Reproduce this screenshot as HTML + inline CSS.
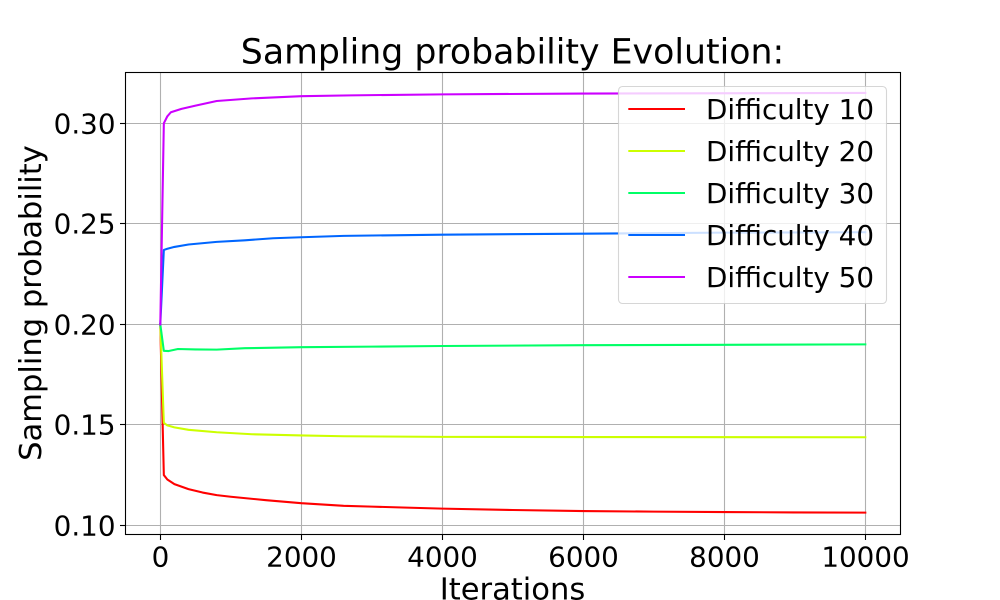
<!DOCTYPE html>
<html>
<head>
<meta charset="utf-8">
<style>
html,body{margin:0;padding:0;background:#fff;}
svg{display:block;}
text{font-family:"DejaVu Sans","Liberation Sans",sans-serif;fill:#000;}
</style>
</head>
<body>
<svg id="chart" xmlns="http://www.w3.org/2000/svg" width="1000" height="600" viewBox="0 0 1000 600">
  <rect x="125" y="72" width="775" height="462" fill="#fff"/>
  <g id="grid"></g>
  <g id="series"></g>
  <rect x="125.5" y="72.5" width="775" height="462" fill="none" stroke="#000" stroke-width="1.1"/>
  <g id="ticks"></g>
  <text x="512.5" y="63.5" font-size="34.72" text-anchor="middle">Sampling probability Evolution:</text>
  <text x="512.5" y="599.5" font-size="30.56" text-anchor="middle">Iterations</text>
  <text transform="translate(41,303) rotate(-90)" font-size="30.56" text-anchor="middle">Sampling probability</text>
  <g id="legend">
    <rect x="618.5" y="86.5" width="268" height="217" rx="4" ry="4" fill="#fff" fill-opacity="0.8" stroke="#ccc" stroke-opacity="0.8" stroke-width="1.1"/>
  </g>
</svg>
<script>
var seriesNames = ["Difficulty 10", "Difficulty 20", "Difficulty 30", "Difficulty 40", "Difficulty 50"];
var seriesColors = ["#ff0000", "#ccff00", "#00ff66", "#0066ff", "#cc00ff"];
var xTickValues = [0, 2000, 4000, 6000, 8000, 10000];
var yTickLabels = ["0.10", "0.15", "0.20", "0.25", "0.30"];
var iterations10 = [0, 50, 100, 200, 400, 600, 800, 1000, 1500, 2000, 2600, 3000, 4000, 5000, 6000, 7000, 8000, 9000, 10000];
var values10 = [0.2, 0.125, 0.1228, 0.1205, 0.118, 0.1163, 0.115, 0.1142, 0.1125, 0.111, 0.1097, 0.1093, 0.1083, 0.1076, 0.1071, 0.1068, 0.1066, 0.1064, 0.1063];
var iterations20 = [0, 50, 100, 200, 400, 800, 1300, 2000, 2600, 4000, 6000, 10000];
var values20 = [0.2, 0.151, 0.1497, 0.1487, 0.1475, 0.1463, 0.1453, 0.1447, 0.1443, 0.144, 0.1439, 0.1438];
var iterations30 = [0, 50, 120, 250, 500, 800, 1200, 2000, 3000, 4000, 6000, 8000, 10000];
var values30 = [0.2, 0.1868, 0.1867, 0.1877, 0.1875, 0.1874, 0.1881, 0.1886, 0.1889, 0.1892, 0.1896, 0.1898, 0.19];
var iterations40 = [0, 50, 100, 200, 400, 800, 1200, 1600, 2000, 2600, 4000, 6000, 8000, 10000];
var values40 = [0.2, 0.237, 0.2376, 0.2385, 0.2397, 0.241, 0.2418, 0.2428, 0.2433, 0.244, 0.2446, 0.2451, 0.2456, 0.2458];
var iterations50 = [0, 50, 100, 150, 300, 500, 800, 1300, 2000, 2700, 4000, 6000, 10000];
var values50 = [0.2, 0.3, 0.3035, 0.3055, 0.3072, 0.3088, 0.3111, 0.3124, 0.3135, 0.3139, 0.3144, 0.3148, 0.3151];

var NS = "http://www.w3.org/2000/svg";
function xScale(v) { return 160.3 + v * 705 / 10000; }
function yScale(v) { return 324.3 - (v - 0.2) * 2010; }
function snap(p) { return Math.floor(p) + 0.5; }
function make(tag, attrs, parent) {
  var el = document.createElementNS(NS, tag);
  for (var k in attrs) el.setAttribute(k, attrs[k]);
  parent.appendChild(el);
  return el;
}
var grid = document.getElementById("grid");
var ticks = document.getElementById("ticks");
var seriesGroup = document.getElementById("series");
var legend = document.getElementById("legend");

xTickValues.forEach(function (v) {
  var x = snap(xScale(v));
  var g = make("line", {x1: x, x2: x, y1: 72, y2: 534, stroke: "#b0b0b0", "stroke-width": 1.1}, grid);
  
  
  var t = make("line", {x1: x, x2: x, y1: 534, y2: 540, stroke: "#000", "stroke-width": 1.1}, ticks);
  
  
  var l = make("text", {x: x, y: 566.5, "font-size": 27.78, "text-anchor": "middle"}, ticks);
  l.textContent = String(v);
  
  
});
yTickLabels.forEach(function (s) {
  var y = snap(yScale(parseFloat(s)));
  var g = make("line", {x1: 125, x2: 900, y1: y, y2: y, stroke: "#b0b0b0", "stroke-width": 1.1}, grid);
  
  
  var t = make("line", {x1: 120, x2: 125, y1: y, y2: y, stroke: "#000", "stroke-width": 1.1}, ticks);
  
  
  var l = make("text", {x: 115.5, y: y + 10.2, "font-size": 27.78, "text-anchor": "end"}, ticks);
  l.textContent = s;
  
  
});

var allX = [iterations10, iterations20, iterations30, iterations40, iterations50];
var allY = [values10, values20, values30, values40, values50];
seriesNames.forEach(function (name, i) {
  var pts = allX[i].map(function (v, j) {
    return xScale(v).toFixed(2) + "," + yScale(allY[i][j]).toFixed(2);
  }).join(" ");
  var line = make("polyline", {points: pts, fill: "none", stroke: seriesColors[i], "stroke-width": 2.08, "stroke-linejoin": "round", "stroke-linecap": "square"}, seriesGroup);
  
  

  var ly = 109 + i * 42;
  var h = make("line", {x1: 628.3, x2: 685, y1: ly, y2: ly, stroke: seriesColors[i], "stroke-width": 2.08}, legend);
  
  
  var lt = make("text", {x: 706, y: ly + 10, "font-size": 27.78}, legend);
  lt.textContent = name;
  
  
});
</script>
</body>
</html>
